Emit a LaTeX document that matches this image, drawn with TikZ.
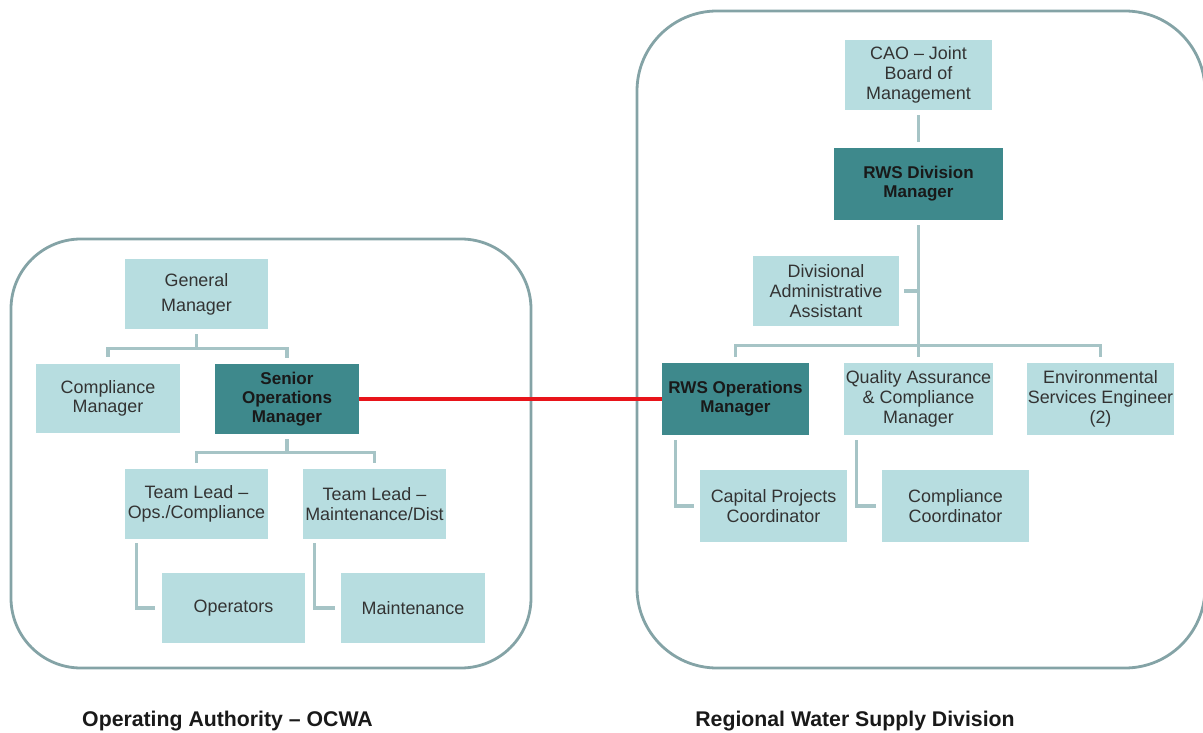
\documentclass[tikz,border=0pt]{standalone}
\usepackage{fontspec}
\setmainfont{Liberation Sans}
\usepackage{tikz}
\definecolor{boxlight}{RGB}{183,221,224}
\definecolor{boxdark}{RGB}{62,137,140}
\definecolor{linkgray}{RGB}{166,196,198}
\definecolor{panelgray}{RGB}{132,163,166}
\definecolor{linkred}{RGB}{232,20,26}

\begin{document}
\begin{tikzpicture}[x=0.02cm, y=-0.02cm,
    lightbox/.style={fill=boxlight, text=black!80, align=center, inner sep=1pt,
      minimum width=2.88cm, minimum height=1.4cm, font=\fontsize{10.2}{11.2}\selectfont},
    darkbox/.style={lightbox, fill=boxdark, text=black!90, font=\fontsize{9.7}{10.8}\selectfont\bfseries},
    link/.style={draw=linkgray, line width=1.8pt, shorten <=0.1cm, shorten >=0.12cm},
    panel/.style={draw=panelgray, line width=1.6pt},
    caption/.style={font=\fontsize{12.1}{14}\selectfont\bfseries, text=black!90}]
    \useasboundingbox (0,0) rectangle (1203,733);

    % Draw the two rounded panels
    \draw[panel, rounded corners=1.4cm] (11,239) rectangle (531,668);
    \draw[panel, rounded corners=1.6cm] (637,11) rectangle (1205,668);

    % Operating authority side
    \node[lightbox] (gm) at (196.5,294) {General\\[3pt]Manager};
    \node[lightbox] (cm) at (108,398.5) {Compliance\\Manager};
    \node[darkbox] (som) at (287,399) {Senior\\Operations\\Manager};
    \node[lightbox] (tlo) at (196.5,504) {Team Lead --\\Ops./Compliance};
    \node[lightbox] (tlm) at (374.5,504) {Team Lead --\\\makebox[2.8cm]{Maintenance/Dist}};
    \node[lightbox] (ops) at (233.5,608) {Operators};
    \node[lightbox] (mnt) at (413,608) {Maintenance};

    % Regional water supply side
    \node[lightbox, minimum width=2.94cm] (cao) at (918.5,75) {CAO -- Joint\\Board of\\Management};
    \node[darkbox, minimum width=3.38cm, minimum height=1.44cm] (rwsdm) at (918.5,184) {RWS Division\\Manager};
    \node[lightbox, minimum width=2.92cm] (asst) at (826,291) {Divisional\\Administrative\\Assistant};
    \node[darkbox, minimum width=2.94cm, minimum height=1.44cm] (rwsom) at (735.5,399) {RWS Operations\\Manager};
    \node[lightbox, minimum width=2.94cm, minimum height=1.44cm] (qa) at (918.5,399) {Quality Assurance\\\& Compliance\\Manager};
    \node[lightbox, minimum width=2.94cm, minimum height=1.44cm] (ese) at (1100.5,399) {Environmental\\\makebox[2.8cm]{Services Engineer}\\(2)};
    \node[lightbox, minimum width=2.94cm, minimum height=1.44cm] (cpc) at (773.5,506) {Capital Projects\\Coordinator};
    \node[lightbox, minimum width=2.94cm, minimum height=1.44cm] (cc) at (955.5,506) {Compliance\\Coordinator};

    % Connectors on the left
    \draw[link] (gm.south) -- ++(0,19) -| (cm.north);
    \draw[link] (gm.south) -- ++(0,19) -| (som.north);
    \draw[link] (som.south) -- ++(0,18) -| (tlo.north);
    \draw[link] (som.south) -- ++(0,18) -| (tlm.north);
    \draw[link, shorten <=0pt] ([xshift=0.25cm,yshift=-0.08cm]tlo.south west) |- (ops.west);
    \draw[link, shorten <=0pt] ([xshift=0.25cm,yshift=-0.08cm]tlm.south west) |- (mnt.west);

    % Connectors on the right
    \draw[link] (cao.south) -- (rwsdm.north);
    \draw[link] (rwsdm.south) -- ++(0,125) -| (rwsom.north);
    \draw[link] (rwsdm.south) -- ++(0,125) -| (ese.north);
    \draw[link] (rwsdm.south) -- (qa.north);
    \draw[link, shorten >=0pt] (asst.east) -- (asst.east -| rwsdm.south);
    \draw[link, shorten <=0pt] ([xshift=0.28cm,yshift=-0.1cm]rwsom.south west) |- (cpc.west);
    \draw[link, shorten <=0pt] ([xshift=0.26cm,yshift=-0.1cm]qa.south west) |- (cc.west);

    % Red link between the two operations managers
    \draw[draw=linkred, line width=2.2pt] (som.east) -- (rwsom.west);

    % Panel captions
    \node[caption] (ocwa) at (227.5,721) {Operating Authority -- OCWA};
    \node[caption] (rwsd) at (855,721) {Regional Water Supply Division};
\end{tikzpicture}
\end{document}
